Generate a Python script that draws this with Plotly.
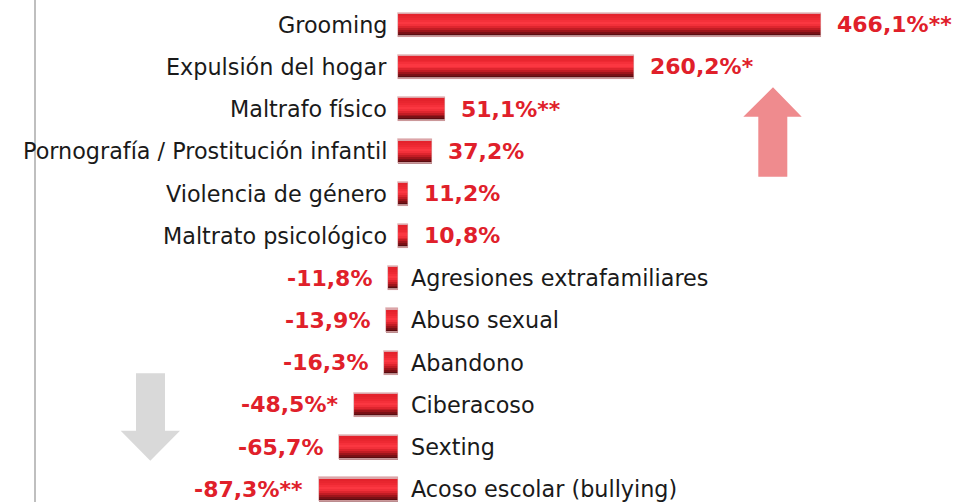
import plotly.graph_objects as go

categories = ["Grooming", "Expulsión del hogar", "Maltrafo físico",
              "Pornografía / Prostitución infantil", "Violencia de género",
              "Maltrato psicológico", "Agresiones extrafamiliares", "Abuso sexual",
              "Abandono", "Ciberacoso", "Sexting", "Acoso escolar (bullying)"]
values = [466.1, 260.2, 51.1, 37.2, 11.2, 10.8, -11.8, -13.9, -16.3, -48.5, -65.7, -87.3]
significance = ["**", "*", "**", "", "", "", "", "", "", "*", "", "**"]

W, H = 953, 502
ZERO_PX, PX_PER = 398.3, 0.907
ROW0_PX, ROW_PX = 24.5, 42.27
BAR_H = 24.0 / ROW_PX

def px(x):
    return x / W

def py(y):
    return 1 - y / H

idx = list(range(len(categories)))
labels = [f"{v:.1f}".replace(".", ",") + "%" + s for v, s in zip(values, significance)]

# vertical gradient bands (top -> bottom): (fraction of bar height, colour)
bands = [(0.05, "#dca6a9"), (0.10, "#e4222c"), (0.09, "#e8262f"), (0.08, "#ee2933"),
         (0.08, "#f5303a"), (0.09, "#fb3741"), (0.08, "#f2303a"), (0.08, "#de252e"),
         (0.08, "#c21c24"), (0.08, "#9e151b"), (0.08, "#7a1116"), (0.06, "#5a0c10"),
         (0.05, "#b98c8e")]
total = sum(f for f, _ in bands)
fig = go.Figure()
acc = 0.0
for f, c in bands:
    top = -BAR_H / 2 + BAR_H * acc / total
    fig.add_trace(go.Bar(
        y=idx, x=values, orientation="h",
        offset=top, width=BAR_H / 2 - top,
        marker=dict(color=c, line=dict(width=0)),
        hoverinfo="skip", showlegend=False))
    acc += f
# light outline
fig.add_trace(go.Bar(
    y=idx, x=values, orientation="h", offset=-BAR_H / 2, width=BAR_H,
    marker=dict(color="rgba(0,0,0,0)", line=dict(width=0.8, color="rgba(215,160,162,0.8)")),
    hoverinfo="skip", showlegend=False))

ann = []
cat_font = dict(family="DejaVu Sans", size=22.3, color="#1a1a1a")
val_font = dict(family="DejaVu Sans", size=22, color="#e0202a")
for i, (cat, v, lab) in enumerate(zip(categories, values, labels)):
    if v >= 0:
        ann.append(dict(x=0, y=i, text=cat, xanchor="right", xshift=-9, showarrow=False, font=cat_font))
        ann.append(dict(x=v, y=i, text=f"<b>{lab}</b>", xanchor="left", xshift=14, showarrow=False, font=val_font))
    else:
        ann.append(dict(x=0, y=i, text=cat, xanchor="left", xshift=11, showarrow=False, font=cat_font))
        ann.append(dict(x=v, y=i, text=f"<b>{lab}</b>", xanchor="right", xshift=-14, showarrow=False, font=val_font))

def path(pts):
    return "M " + " L ".join(f"{px(x):.5f},{py(y):.5f}" for x, y in pts) + " Z"

up = [(773, 87.3), (801.7, 116.7), (787.3, 116.7), (787.3, 176.7), (758.3, 176.7),
      (758.3, 116.7), (743.3, 116.7)]
down = [(136, 373.3), (165, 373.3), (165, 430.7), (180, 430.7), (150.3, 460.7),
        (120.7, 430.7), (136, 430.7)]

shapes = [
    dict(type="line", xref="paper", yref="paper", x0=px(35), x1=px(35), y0=0, y1=1,
         line=dict(color="#bfbfbf", width=2)),
    dict(type="path", xref="paper", yref="paper", path=path(up),
         fillcolor="#ef8b8e", line=dict(width=0)),
    dict(type="path", xref="paper", yref="paper", path=path(down),
         fillcolor="#d9d9d9", line=dict(width=0)),
]

fig.update_layout(
    width=W, height=H, margin=dict(l=0, r=0, t=0, b=0),
    paper_bgcolor="white", plot_bgcolor="white",
    barmode="overlay", bargap=0,
    xaxis=dict(range=[-ZERO_PX / PX_PER, (W - ZERO_PX) / PX_PER], visible=False, fixedrange=True),
    yaxis=dict(range=[(H - ROW0_PX) / ROW_PX, -ROW0_PX / ROW_PX], visible=False, fixedrange=True),
    annotations=ann, shapes=shapes,
)
fig.write_html("out.html", config={"displayModeBar": False},
               post_script="document.body.style.margin='0';document.body.style.overflow='hidden';")
